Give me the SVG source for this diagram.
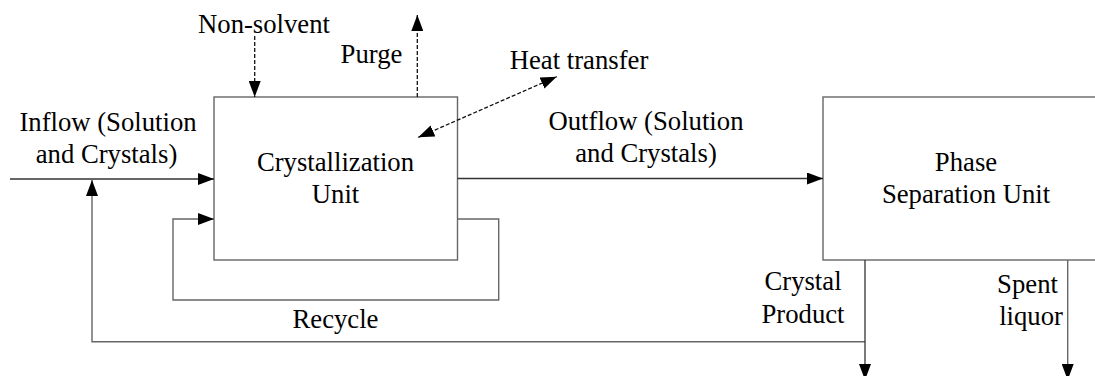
<svg xmlns="http://www.w3.org/2000/svg" width="1095" height="376" viewBox="0 0 1095 376">
<style>
text{font-family:'Liberation Serif','DejaVu Serif',serif;font-size:26.7px;fill:#000;text-anchor:middle}
.box{fill:#fff;stroke:#666;stroke-width:1.4}
.ln{fill:none;stroke:#333;stroke-width:1.3}
.gl{fill:none;stroke:#666;stroke-width:1.4}
.dash{fill:none;stroke:#111;stroke-width:1.3;stroke-dasharray:4 2}
</style>
<defs>
<marker id="ah" markerUnits="userSpaceOnUse" markerWidth="16" markerHeight="12" refX="16" refY="6" orient="auto">
<path d="M0,0 L16,6 L0,12 z" fill="#000"/>
</marker>
<marker id="ahs" markerUnits="userSpaceOnUse" markerWidth="16" markerHeight="12" refX="0" refY="6" orient="auto">
<path d="M16,0 L0,6 L16,12 z" fill="#000"/>
</marker>
</defs>
<g id="crystallization-unit">
<rect class="box" x="214" y="97" width="243.5" height="163"/>
<text x="335.5" y="171" font-family="Liberation Serif, serif">Crystallization</text>
<text x="335.5" y="203.3" font-family="Liberation Serif, serif">Unit</text>
</g>
<g id="phase-separation-unit">
<rect class="box" x="823" y="97" width="290" height="163"/>
<text x="966" y="170.7" font-family="Liberation Serif, serif">Phase</text>
<text x="966" y="203" font-family="Liberation Serif, serif">Separation Unit</text>
</g>
<g id="connectors">
<line class="ln" x1="10" y1="179" x2="214" y2="179" marker-end="url(#ah)"/>
<line class="ln" x1="457.5" y1="178.5" x2="823" y2="178.5" marker-end="url(#ah)"/>
<polyline class="gl" points="457.5,219 498.7,219 498.7,300 173,300 173,219 214,219" marker-end="url(#ah)"/>
<polyline class="gl" points="865,341.7 92,341.7 92,180" marker-end="url(#ah)"/>
<line class="ln" x1="865" y1="260" x2="865" y2="380" marker-end="url(#ah)"/>
<line class="gl" x1="1067.7" y1="260" x2="1067.7" y2="380" marker-end="url(#ah)"/>
<line class="dash" x1="254.7" y1="36" x2="254.7" y2="97" marker-end="url(#ah)"/>
<line class="dash" x1="417.3" y1="97" x2="417.3" y2="15" marker-end="url(#ah)"/>
<line class="dash" x1="418.3" y1="137.3" x2="556.7" y2="76.7" marker-start="url(#ahs)" marker-end="url(#ah)"/>
</g>
<g id="labels" font-family="Liberation Serif, serif">
<text x="108" y="130.7">Inflow (Solution</text>
<text x="106.5" y="163">and Crystals)</text>
<text x="264" y="33.3">Non-solvent</text>
<text x="371.5" y="63.3">Purge</text>
<text x="579" y="69.3">Heat transfer</text>
<text x="646" y="130">Outflow (Solution</text>
<text x="646" y="161.7">and Crystals)</text>
<text x="803" y="290">Crystal</text>
<text x="803" y="322.7">Product</text>
<text x="1027.5" y="293.3">Spent</text>
<text x="1031" y="325">liquor</text>
<text x="335.5" y="327.7">Recycle</text>
</g>
</svg>
